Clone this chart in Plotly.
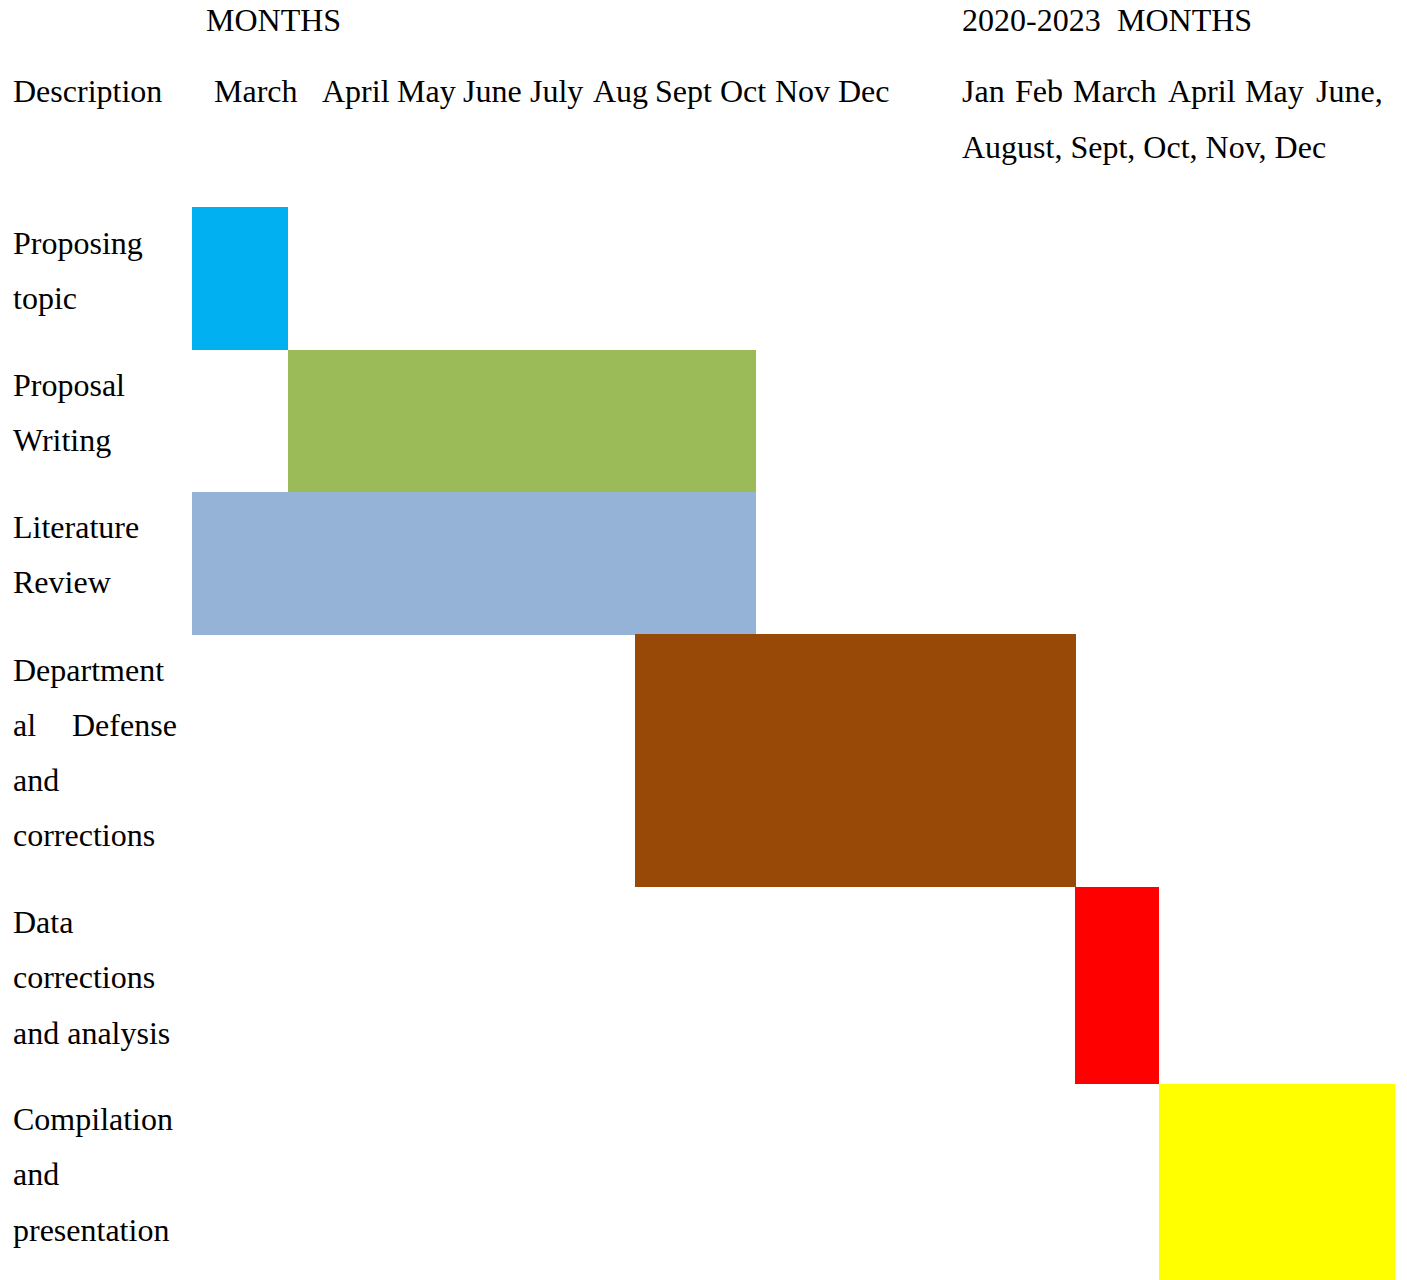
import plotly.graph_objects as go

# ---- data ----
tasks = ["Proposing topic", "Proposal Writing", "Literature Review",
         "Departmental Defense and corrections", "Data corrections and analysis",
         "Compilation and presentation"]
# timeline position in months from March 2020 (approximate)
start_month = [0.0, 1.0, 0.0, 4.61, 9.2, 10.07]
end_month = [1.0, 5.88, 5.88, 9.21, 10.07, 12.53]
# row extents (vertical timeline rows)
row_top = [207, 350, 492, 634, 887, 1084]
row_bottom = [350, 492, 635, 887, 1084, 1280]
colors = ["#00B0F0", "#9BBB59", "#95B3D7", "#984807", "#FF0000", "#FFFF00"]

label_lines = [["Proposing", "topic"], ["Proposal", "Writing"], ["Literature", "Review"],
               ["Department", "al", "and", "corrections"],
               ["Data", "corrections", "and analysis"],
               ["Compilation", "and", "presentation"]]
months_2020 = ["March", "April", "May", "June", "July", "Aug", "Sept", "Oct", "Nov", "Dec"]
months_2021a = ["Jan", "Feb", "March", "April", "May", "June,"]
months_2021b = "August, Sept, Oct, Nov, Dec"

# ---- layout helpers ----
W, H = 1407, 1280
FONT = dict(family="Times New Roman, Liberation Serif, serif", size=32, color="black")

durations = [e - s for s, e in zip(start_month, end_month)]
centers = [(t + b) / 2 for t, b in zip(row_top, row_bottom)]
thick = [b - t for t, b in zip(row_top, row_bottom)]

fig = go.Figure(go.Bar(
    orientation="h", base=start_month, x=durations, y=centers, width=thick,
    marker=dict(color=colors, line=dict(width=0)), hoverinfo="skip", showlegend=False))

anns = []
DX, DY = -1, 0
def txt(s, px, py):
    anns.append(dict(text=s, x=(px + DX) / W, y=1 - (py + DY) / H, xref="paper", yref="paper",
                     xanchor="left", yanchor="middle", showarrow=False, font=FONT))

txt("MONTHS", 205, 20)
txt("2020-2023", 961, 20)
txt("MONTHS", 1116, 20)
txt("Description", 12, 91)
month_x = [213, 321, 396, 462, 529, 592, 654, 719, 774, 837]
for m, px in zip(months_2020, month_x):
    txt(m, px, 91)
m21_x = [961, 1014, 1072, 1167, 1244, 1315]
for m, px in zip(months_2021a, m21_x):
    txt(m, px, 91)
txt(months_2021b, 961, 147)

label_y = [[243, 298], [385, 440], [527, 582], [670, 725, 780, 835],
           [922, 977, 1033], [1119, 1174, 1230]]
for lines, ys in zip(label_lines, label_y):
    for s, py in zip(lines, ys):
        txt(s, 12, py)
txt("Defense", 71, 725)

K = 96.0
x0 = 192.0
fig.update_layout(
    width=W, height=H, margin=dict(l=0, r=0, t=0, b=0),
    paper_bgcolor="white", plot_bgcolor="white", bargap=0,
    xaxis=dict(range=[-x0 / K, (W - x0) / K], visible=False, fixedrange=True),
    yaxis=dict(range=[H, 0], visible=False, fixedrange=True),
    annotations=anns,
)
fig.write_html("out.html", config=dict(displayModeBar=False),
               post_script="document.body.style.margin='0';document.body.style.overflow='hidden';")
